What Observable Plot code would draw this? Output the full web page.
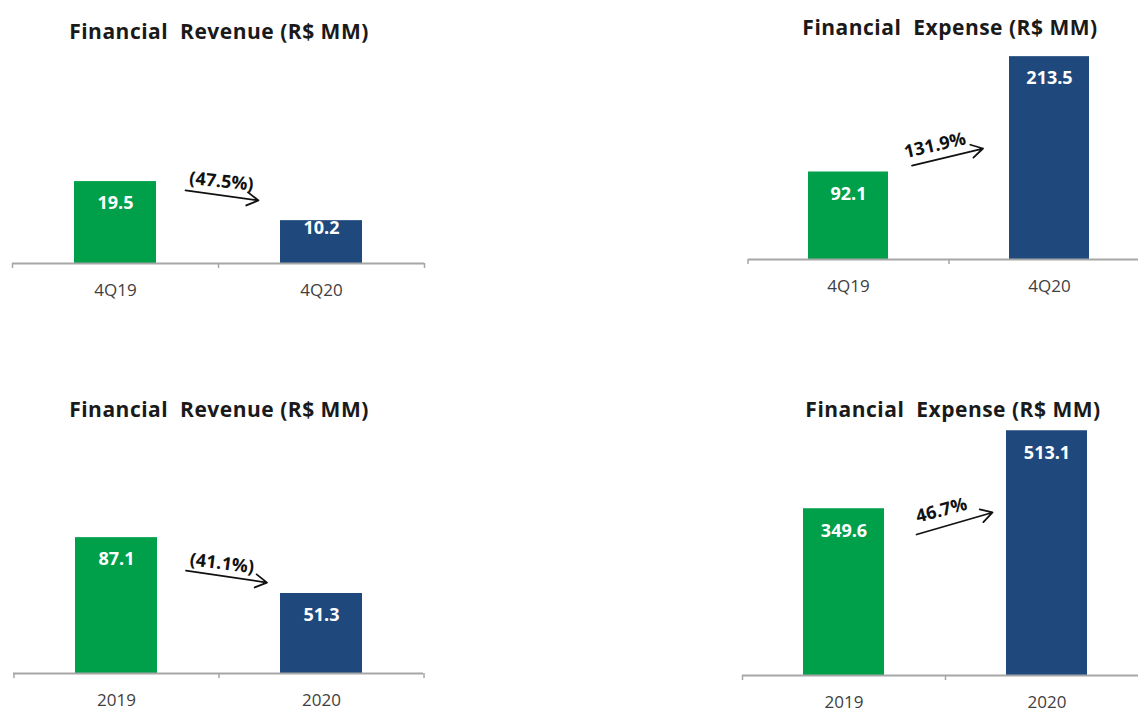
<!DOCTYPE html>
<html><head><meta charset="utf-8">
<script src="https://cdn.jsdelivr.net/npm/d3@7"></script>
<script src="https://cdn.jsdelivr.net/npm/@observablehq/plot@0.6"></script>
<style>
html,body{margin:0;padding:0;background:#fff;overflow:hidden;width:1138px;height:711px;position:relative;}
.panel{position:absolute;}
.panel svg{max-width:none !important;}
.title{position:absolute;font-family:"Open Sans",sans-serif;font-weight:bold;font-size:21px;letter-spacing:0.5px;line-height:24px;color:#1a1a1a;white-space:pre;transform:translateX(-50%);}
</style></head><body>
<script>
// ---- data ----
const quarterLabels = ["4Q19", "4Q20"];
const yearLabels = ["2019", "2020"];
const revenueQuarter = [19.5, 10.2];
const expenseQuarter = [92.1, 213.5];
const revenueYear = [87.1, 51.3];
const expenseYear = [349.6, 513.1];
const changeLabels = ["(47.5%)", "131.9%", "(41.1%)", "46.7%"];
const titles = ["Financial  Revenue (R$ MM)", "Financial  Expense (R$ MM)", "Financial  Revenue (R$ MM)", "Financial  Expense (R$ MM)"];
const barColors = ["#00A04B", "#1F497D"];

// ---- layout / annotation config ----
const charts = [
  {cats: quarterLabels, values: revenueQuarter, change: changeLabels[0], title: titles[0],
   left: 0, top: 50, width: 440, height: 270, ml: 12, mr: 16, mb: 57, ymax: 50.7,
   titleX: 219, titleY: 19,
   a1: 19.67, a2: 12.95, inS: 70.7, inE: 63.6, tY: 19.5, tDx: 106, rot: 6},
  {cats: quarterLabels, values: expenseQuarter, change: changeLabels[1], title: titles[1],
   left: 700, top: 40, width: 460, height: 270, ml: 48, mr: 10, mb: 51, ymax: 230.5,
   titleX: 950, titleY: 15,
   a1: 82.9, a2: 133.6, inS: 65.3, inE: 68.4, tY: 120, tDx: 86.5, rot: -13},
  {cats: yearLabels, values: revenueYear, change: changeLabels[2], title: titles[2],
   left: 0, top: 430, width: 440, height: 280, ml: 13, mr: 17, mb: 37, ymax: 155.8,
   titleX: 219, titleY: 397,
   a1: 72.6, a2: 53.1, inS: 70.3, inE: 55.1, tY: 70.5, tDx: 105.5, rot: 7},
  {cats: yearLabels, values: expenseYear, change: changeLabels[3], title: titles[3],
   left: 700, top: 420, width: 460, height: 290, ml: 42, mr: 12, mb: 35, ymax: 534.6,
   titleX: 953, titleY: 397,
   a1: 251.6, a2: 374.8, inS: 75.5, inE: 56.7, tY: 346, tDx: 97.5, rot: -15}
];

function makeChart(c) {
  const data = c.cats.map((cat, i) => ({cat, value: c.values[i]}));
  const step = (c.width - c.ml - c.mr) / 2;
  const k = (c.height - c.mb) / c.ymax;
  const tall = data.filter(d => d.value * k >= 50);
  const short = data.filter(d => d.value * k < 50);
  const tick = 5 / k;
  const axisStyle = {stroke: "#a6a6a6", strokeWidth: 1.5};
  const plot = Plot.plot({
    width: c.width, height: c.height,
    marginLeft: c.ml, marginRight: c.mr, marginTop: 0, marginBottom: c.mb,
    style: {fontFamily: "'Open Sans', sans-serif", overflow: "visible", background: "transparent", maxWidth: "none"},
    x: {type: "band", domain: c.cats, paddingInner: 0.6, paddingOuter: 0.3, label: null},
    y: {domain: [0, c.ymax], axis: null},
    color: {domain: c.cats, range: barColors},
    marks: [
      Plot.barY(data, {x: "cat", y: "value", fill: "cat"}),
      Plot.ruleY([0], {stroke: "#a6a6a6", strokeWidth: 2}),
      Plot.ruleX(c.cats, {x: d => d, y1: 0, y2: -tick, dx: -step / 2, ...axisStyle}),
      Plot.ruleX([c.cats[c.cats.length - 1]], {x: d => d, y1: 0, y2: -tick, dx: step / 2, ...axisStyle}),
      Plot.text(tall, {x: "cat", y: "value", text: d => d.value.toFixed(1), fill: "white", fontWeight: "bold", fontSize: 18, lineAnchor: "top", dy: 15}),
      Plot.text(short, {x: "cat", y: "value", text: d => d.value.toFixed(1), fill: "white", fontWeight: "bold", fontSize: 18, lineAnchor: "top", dy: 1}),
      Plot.arrow([c.change], {x1: () => c.cats[0], x2: () => c.cats[1], y1: () => c.a1, y2: () => c.a2,
        insetStart: c.inS, insetEnd: c.inE, stroke: "#111", strokeWidth: 1.8, headLength: 11}),
      Plot.text([c.change], {x: () => c.cats[0], y: () => c.tY, dx: c.tDx, rotate: c.rot, text: d => d,
        fontWeight: "bold", fontSize: 18, fill: "#111", style: {letterSpacing: "0.5px"}}),
      Plot.axisX({tickSize: 0, tickPadding: 20, fontSize: 17, fill: "#404040"})
    ]
  });
  const div = document.createElement("div");
  div.className = "panel";
  div.style.left = c.left + "px";
  div.style.top = c.top + "px";
  div.style.width = c.width + "px";
  div.appendChild(plot);
  document.body.appendChild(div);
  const t = document.createElement("div");
  t.className = "title";
  t.textContent = c.title;
  t.style.left = c.titleX + "px";
  t.style.top = c.titleY + "px";
  document.body.appendChild(t);
}
charts.forEach(makeChart);
</script>
</body></html>
